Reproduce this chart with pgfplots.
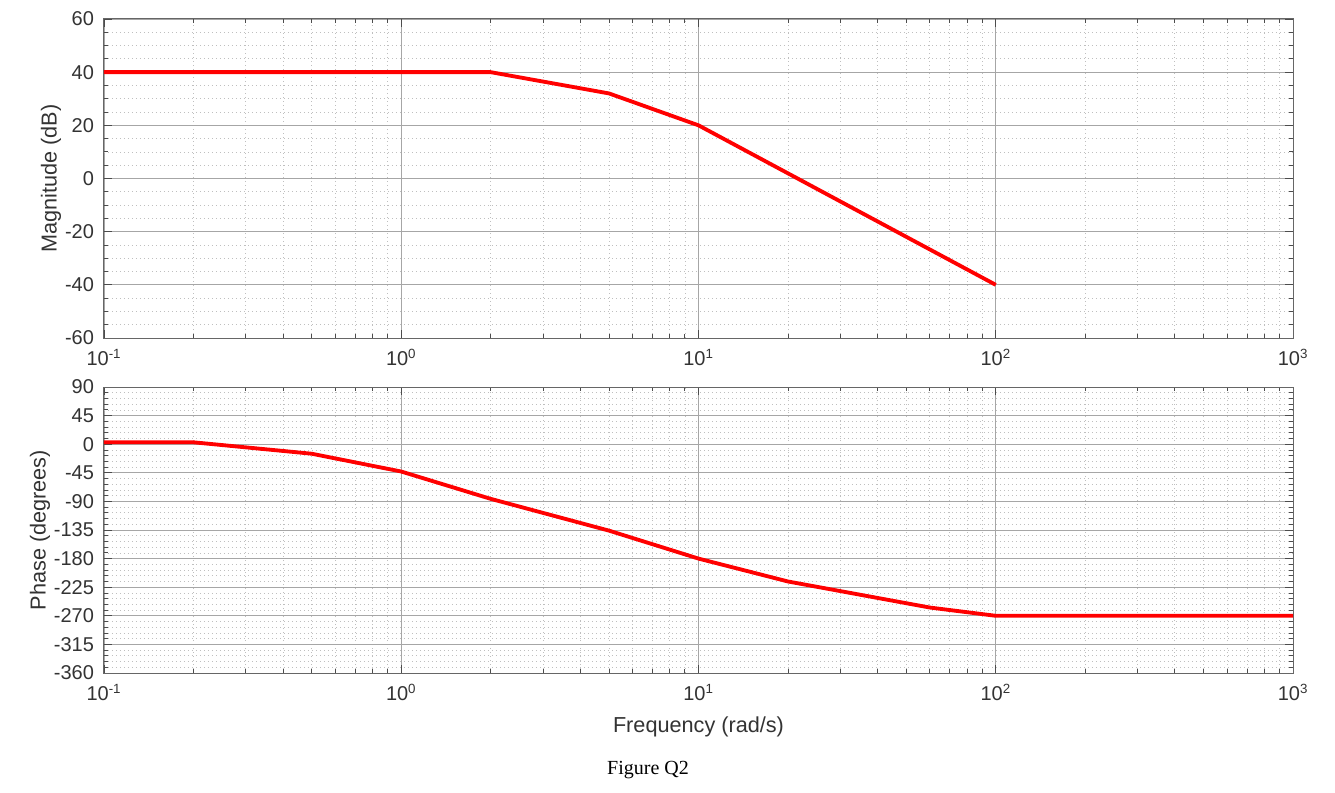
\documentclass[border=0pt]{standalone}
\usepackage{pgfplots}
\pgfplotsset{compat=1.18}
\usepackage{fontspec}
\setmainfont{Liberation Sans}
\newfontfamily\timesfont{Liberation Serif}

\begin{document}
\begin{tikzpicture}
\path[use as bounding box] (-62.4pt,11.4pt) rectangle (738.6pt,-464.4pt);

\begin{axis}[
  scale only axis,
  width=713.4pt,
  xmode=log, xmin=0.1, xmax=1000,
  xtick={0.1,1,10,100,1000},
  xticklabels={10\textsuperscript{-1},10\textsuperscript{0},10\textsuperscript{1},10\textsuperscript{2},10\textsuperscript{3}},
  grid=both,
  major grid style={black!35, line width=0.5pt},
  minor grid style={black!25, dotted, line width=0.45pt},
  axis line style={black!60, line width=0.6pt},
  tick style={black!70, line width=0.5pt},
  major tick length=5pt, minor tick length=2.5pt,
  ticklabel style={font=\fontsize{12}{14}\selectfont, text=black!80},
  xticklabel style={yshift=-3pt},
  yticklabel style={xshift=-2.5pt, /pgf/number format/assume math mode=true},
  at={(0pt,0pt)}, anchor=north west,
  height=191.4pt,
  ymin=-60, ymax=60,
  ytick={-60,-40,-20,0,20,40,60},
  minor y tick num=3,
  ylabel={Magnitude (dB)},
  every axis y label/.style={at={(axis description cs:-0.0446,0.5)}, rotate=90, anchor=center, font=\fontsize{13}{15}\selectfont, text=black!80},
]
\addplot[red, line width=2.3pt] coordinates {
  (0.1,40) (2,40) (5,32) (10,20) (100,-40)
};
\end{axis}

\begin{axis}[
  scale only axis,
  width=713.4pt,
  xmode=log, xmin=0.1, xmax=1000,
  xtick={0.1,1,10,100,1000},
  xticklabels={10\textsuperscript{-1},10\textsuperscript{0},10\textsuperscript{1},10\textsuperscript{2},10\textsuperscript{3}},
  grid=both,
  major grid style={black!35, line width=0.5pt},
  minor grid style={black!25, dotted, line width=0.45pt},
  axis line style={black!60, line width=0.6pt},
  tick style={black!70, line width=0.5pt},
  major tick length=5pt, minor tick length=2.5pt,
  ticklabel style={font=\fontsize{12}{14}\selectfont, text=black!80},
  xticklabel style={yshift=-3pt},
  yticklabel style={xshift=-2.5pt, /pgf/number format/assume math mode=true},
  at={(0pt,-220.8pt)}, anchor=north west,
  height=171.6pt,
  ymin=-360, ymax=90,
  ytick={-360,-315,-270,-225,-180,-135,-90,-45,0,45,90},
  minor y tick num=4,
  ylabel={Phase (degrees)},
  every axis y label/.style={at={(axis description cs:-0.0538,0.5)}, rotate=90, anchor=center, font=\fontsize{13}{15}\selectfont, text=black!80},
  xlabel={Frequency (rad/s)},
  every axis x label/.style={at={(axis description cs:0.5,-0.189)}, anchor=center, font=\fontsize{13}{15}\selectfont, text=black!80},
]
\addplot[red, line width=2.3pt] coordinates {
  (0.1,3) (0.2,3) (0.5,-15) (1,-43) (2,-86) (5,-136) (10,-180) (20,-216) (60,-257) (100,-270) (1000,-270)
};
\end{axis}

\node[font=\timesfont\fontsize{12}{14}\selectfont, anchor=center] at (326.4pt,-450.6pt) {Figure Q2};
\end{tikzpicture}
\end{document}
